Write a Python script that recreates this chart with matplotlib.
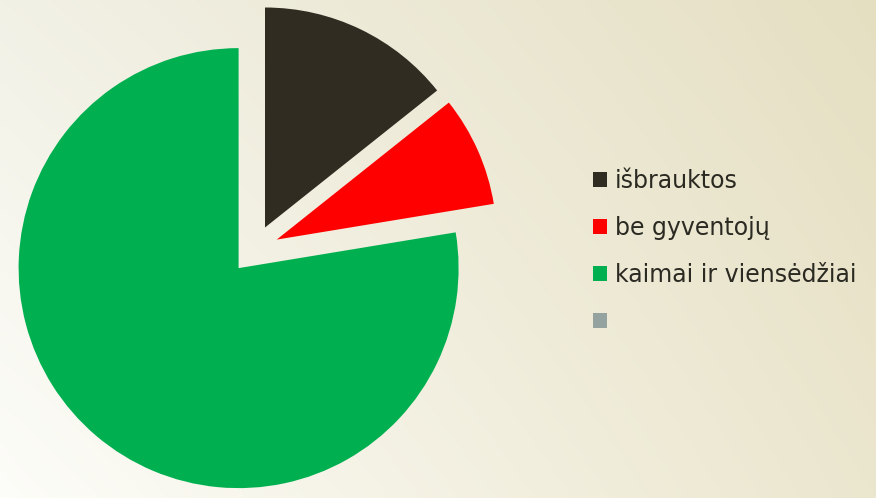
import numpy as np
import matplotlib
matplotlib.use("Agg")
import matplotlib.pyplot as plt
from matplotlib.patches import Patch

categories = ["išbrauktos", "be gyventojų", "kaimai ir viensėdžiai", ""]
values = [14.3, 8.1, 77.6, 0.0]
colors = ["#312c21", "#ff0000", "#00b050", "#95a3a0"]

W, H = 876, 498
fig = plt.figure(figsize=(W / 100, H / 100), dpi=100)

# background gradient (bilinear between corner colours)
bg = fig.add_axes([0, 0, 1, 1])
bg.set_axis_off()
tl = np.array([242, 241, 230]) / 255
tr = np.array([229, 223, 194]) / 255
bl = np.array([253, 253, 249]) / 255
br = np.array([235, 230, 206]) / 255
xs = np.linspace(0, 1, 200)[None, :, None]
ys = np.linspace(0, 1, 120)[:, None, None]
img = (1 - ys) * ((1 - xs) * tl + xs * tr) + ys * ((1 - xs) * bl + xs * br)
bg.imshow(img, aspect="auto", extent=[0, 1, 0, 1], interpolation="bilinear")

# pie axes: centre at (254.4, 249.5) px, radius 220 px
L = 1.2
S = 2 * L * 220
cx, cy = 254.4, H - 249.5
ax = fig.add_axes([(cx - S / 2) / W, (cy - S / 2) / H, S / W, S / H])
plot_vals = [v for v in values if v > 0]
plot_cols = [c for v, c in zip(values, colors) if v > 0]
ax.pie(plot_vals, colors=plot_cols, startangle=90, counterclock=False,
       explode=[0.111] * len(plot_vals), radius=1.0,
       wedgeprops=dict(linewidth=0))
ax.set_xlim(-L, L)
ax.set_ylim(-L, L)
ax.set_aspect("equal")
ax.set_axis_off()

handles = [Patch(facecolor=c, edgecolor="none") for c in colors]
leg = fig.legend(handles, categories, loc="upper left",
                 bbox_to_anchor=(581 / W, 1 - 157 / H), frameon=False,
                 prop=dict(family="DejaVu Sans", size=17),
                 labelspacing=0.97, handlelength=0.6, handleheight=0.6,
                 handletextpad=0.32, borderpad=0, labelcolor="#2b2a22")

fig.savefig("out.png", dpi=100)
